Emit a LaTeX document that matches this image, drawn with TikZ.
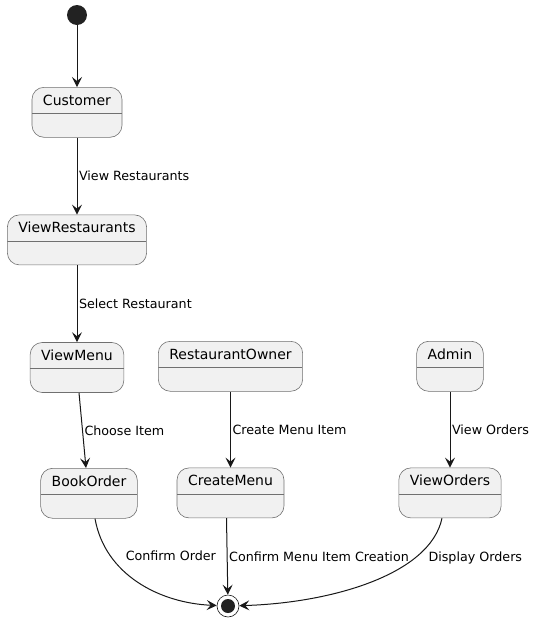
\documentclass[tikz,border=0pt]{standalone}
\usepackage{fontspec}
\setmainfont{DejaVu Sans}
\usepackage{xcolor}
\usepackage{tikz}
\usetikzlibrary{arrows.meta,positioning}
\definecolor{statefill}{HTML}{F1F1F1}
\definecolor{lineblack}{HTML}{181818}
\definecolor{bordergray}{HTML}{707070}
\definecolor{dotblack}{HTML}{222222}

\begin{document}
\begin{tikzpicture}[x=1pt,y=-1pt,
          state/.style={draw=bordergray,line width=0.6pt,fill=statefill,rounded corners=12pt,
                        inner xsep=11pt,inner ysep=3pt,text height=15pt,text depth=29pt,
                        font=\fontsize{14pt}{16pt}\selectfont,anchor=north,
                        path picture={\draw[bordergray,line width=0.6pt]
                          ([yshift=-26pt]path picture bounding box.north west) --
                          ([yshift=-26pt]path picture bounding box.north east);}},
          initial/.style={circle,fill=dotblack,inner sep=0pt,minimum size=20pt},
          final/.style={circle,draw=lineblack,line width=0.6pt,fill=white,inner sep=0pt,
                        minimum size=22pt,
                        path picture={\fill[dotblack] (path picture bounding box.center) circle (7pt);}},
          trans/.style={draw=lineblack,line width=1pt,
                        -{Stealth[length=10pt,width=10pt,inset=4pt]}},
          lbl/.style={font=\fontsize{12.7pt}{15pt}\selectfont,inner sep=1.5pt,right}]
        \useasboundingbox (0,0) rectangle (536,622);
        \node[initial] (start) at (77,15) {};
        \node[state] (customer) at (77,87) {Customer};
        \node[state,below=77pt of customer] (viewrest) {ViewRestaurants};
        \node[state,below=77pt of viewrest] (viewmenu) {ViewMenu};
        \node[state] (owner) at (230.5,341) {RestaurantOwner};
        \node[state] (admin) at (450,341) {Admin};
        \node[state] (bookorder) at (89,468) {BookOrder};
        \node[state,below=76pt of owner] (createmenu) {CreateMenu};
        \node[state,below=76pt of admin] (vieworders) {ViewOrders};
        \node[final] (end) at (228,606) {};
        \draw[trans] (start) -- (customer);
        \draw[trans] (customer) -- node[lbl] {View Restaurants} (viewrest);
        \draw[trans] (viewrest) -- node[lbl] {Select Restaurant} (viewmenu);
        \draw[trans] ([xshift=2pt]viewmenu.south) -- node[lbl] {Choose Item} ([xshift=-3pt]bookorder.north);
        \draw[trans] (owner.south) -- node[lbl] {Create Menu Item} (createmenu.north);
        \draw[trans] (admin.south) -- node[lbl] {View Orders} (vieworders.north);
        \draw[trans] ([xshift=6pt]bookorder.south) .. controls (105,575) and (160,603) ..
          node[lbl,pos=0.25,xshift=13.5pt] {Confirm Order} (end);
        \draw[trans] ([xshift=-4pt]createmenu.south) -- node[lbl] {Confirm Menu Item Creation} (end);
        \draw[trans] ([xshift=-8pt]vieworders.south) .. controls (430,575) and (330,603) ..
          node[lbl,pos=0.25,xshift=8.5pt,yshift=-3pt] {Display Orders} (end);
      \end{tikzpicture}
\end{document}
